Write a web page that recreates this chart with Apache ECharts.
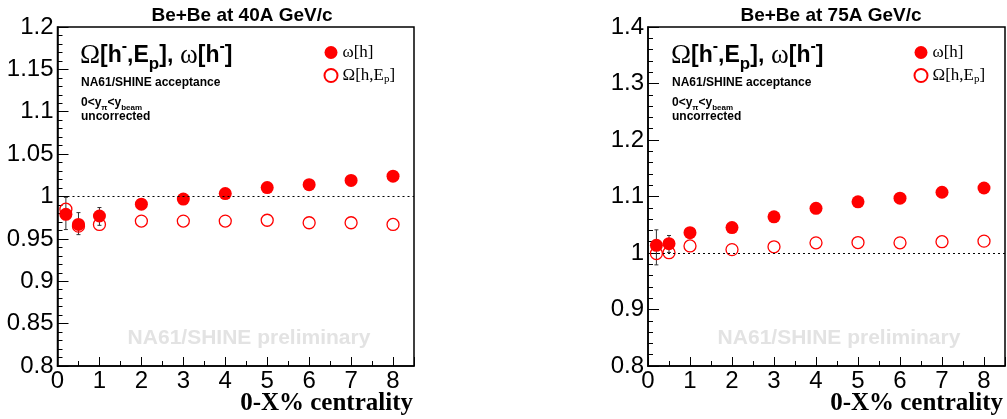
<!DOCTYPE html>
<html>
<head>
<meta charset="utf-8">
<script src="https://cdn.jsdelivr.net/npm/echarts@6/dist/echarts.min.js"></script>
<style>
  html, body { margin: 0; padding: 0; background: #fff; }
  #chart { width: 1007px; height: 419px; }
</style>
</head>
<body>
<div id="chart"></div>
<script>
// centrality bins (0-X%)
const centrality = [0.2, 0.5, 1, 2, 3, 4, 5, 6, 7, 8];

// Be+Be 40A GeV/c
const omega40 = [0.979, 0.967, 0.977, 0.991, 0.997, 1.0035, 1.0105, 1.014, 1.019, 1.024];
const bigOmega40 = [0.985, 0.965, 0.967, 0.971, 0.971, 0.971, 0.972, 0.969, 0.969, 0.967];
const errX40 = [0.2, 0.5, 1];
const errLo40 = [0.961, 0.955, 0.966];
const errHi40 = [0.999, 0.981, 0.987];

// Be+Be 75A GeV/c
const omega75 = [1.0135, 1.0165, 1.036, 1.045, 1.064, 1.079, 1.0905, 1.097, 1.1075, 1.115];
const bigOmega75 = [0.999, 1.0005, 1.0125, 1.006, 1.011, 1.018, 1.0185, 1.018, 1.020, 1.021];
const errX75 = [0.2, 0.5];
const errLo75 = [0.979, 1.001];
const errHi75 = [1.041, 1.031];

const yTicks40 = { min: 0.8, max: 1.2, interval: 0.05 };
const yTicks75 = { min: 0.8, max: 1.4, interval: 0.1 };

const RED = '#ff0000';
const SANS = 'Liberation Sans';
const SERIF = 'Liberation Serif';

const pairs = (xs, ys) => xs.map((x, i) => [x, ys[i]]);
const bars = (xs, lo, hi) => xs.map((x, i) => [x, lo[i], hi[i]]);

function renderErr(params, api) {
  const x = api.value(0);
  const a = api.coord([x, api.value(1)]);
  const b = api.coord([x, api.value(2)]);
  const w = 2;
  const st = { stroke: '#333', lineWidth: 1 };
  return {
    type: 'group',
    children: [
      { type: 'line', shape: { x1: a[0], y1: a[1], x2: b[0], y2: b[1] }, style: st },
      { type: 'line', shape: { x1: a[0] - w, y1: a[1], x2: a[0] + w, y2: a[1] }, style: st },
      { type: 'line', shape: { x1: b[0] - w, y1: b[1], x2: b[0] + w, y2: b[1] }, style: st }
    ]
  };
}

function xAxisFor(idx) {
  return {
    type: 'value', gridIndex: idx, min: 0, max: 8.5, interval: 1,
    axisLine: { lineStyle: { color: '#000', width: 1.5 } },
    axisTick: { inside: true, length: 9, lineStyle: { color: '#000' } },
    minorTick: { show: true, splitNumber: 2, length: 5, lineStyle: { color: '#000' } },
    splitLine: { show: false },
    axisLabel: { showMaxLabel: false, fontFamily: SANS, fontSize: 24, color: '#000', margin: 3 }
  };
}

function yAxisFor(idx, t) {
  return {
    type: 'value', gridIndex: idx, min: t.min, max: t.max, interval: t.interval,
    axisLine: { lineStyle: { color: '#000', width: 1.5 } },
    axisTick: { inside: true, length: 11, lineStyle: { color: '#000' } },
    minorTick: { show: true, splitNumber: 5, length: 5, lineStyle: { color: '#000' } },
    splitLine: { show: false },
    axisLabel: {
      fontFamily: SANS, fontSize: 24, color: '#000', margin: 4,
      formatter: v => String(+v.toFixed(2))
    }
  };
}

function panelSeries(idx, filled, hollow, err, tag) {
  return [
    {
      name: 'err' + tag, type: 'custom', xAxisIndex: idx, yAxisIndex: idx,
      renderItem: renderErr, data: err, encode: { x: 0, y: [1, 2] }, z: 1, silent: true
    },
    {
      name: 'w' + tag, type: 'scatter', xAxisIndex: idx, yAxisIndex: idx,
      data: filled, symbol: 'circle', symbolSize: 13,
      itemStyle: { color: RED, opacity: 1 }, z: 3,
      markLine: {
        silent: true, symbol: 'none', label: { show: false },
        lineStyle: { color: '#000', type: [2, 3], width: 1 },
        data: [{ yAxis: 1 }]
      }
    },
    {
      name: 'O' + tag, type: 'scatter', xAxisIndex: idx, yAxisIndex: idx,
      data: hollow, symbol: 'circle', symbolSize: 12,
      itemStyle: { color: 'rgba(255,255,255,0)', borderColor: RED, borderWidth: 1.3, opacity: 1 }, z: 4
    }
  ];
}

const legendRich = {
  t: { fontFamily: SERIF, fontSize: 17, color: '#000' },
  s: { fontFamily: SERIF, fontSize: 11, color: '#000', verticalAlign: 'bottom', padding: [8, 0, 0, 0] }
};
function legendFor(tag, left) {
  return {
    left: left, top: 44, orient: 'vertical', padding: 0,
    itemWidth: 13, itemHeight: 13, itemGap: 6,
    selectedMode: false,
    data: [{ name: 'w' + tag, icon: 'circle' }, { name: 'O' + tag, icon: 'circle' }],
    formatter: n => n[0] === 'w' ? '{t|ω[h]}' : '{t|Ω[h,E}{s|p}{t|]}',
    textStyle: { rich: legendRich }
  };
}

function panelText(x, cx, right, title) {
  const b = { fontFamily: SANS, fontWeight: 'bold', fontSize: 23, fill: '#000' };
  return [
    { type: 'text', x: cx, y: 16, style: { text: title, align: 'center', verticalAlign: 'middle', font: 'bold 19px ' + SANS, fill: '#000' } },
    {
      type: 'text', x: x, y: 56,
      style: {
        text: '{g|Ω}{b|[h}{p|-}{b|,E}{q|p}{b|],}{g| ω}{b|[h}{p|-}{b|]}',
        verticalAlign: 'middle',
        rich: {
          g: { fontFamily: SERIF, fontSize: 27, lineHeight: 34, fill: '#000' },
          b: Object.assign({ lineHeight: 34 }, b),
          p: { fontFamily: SANS, fontWeight: 'bold', fontSize: 16, lineHeight: 16, verticalAlign: 'top', fill: '#000' },
          q: { fontFamily: SANS, fontWeight: 'bold', fontSize: 17, lineHeight: 17, verticalAlign: 'bottom', fill: '#000' }
        }
      }
    },
    { type: 'text', x: x + 1, y: 83, style: { text: 'NA61/SHINE acceptance', verticalAlign: 'middle', font: 'bold 12px ' + SANS, fill: '#000' } },
    {
      type: 'text', x: x + 1, y: 103,
      style: {
        text: '{a|0<y}{s|π}{a|<y}{s|beam}',
        verticalAlign: 'middle',
        rich: {
          a: { fontFamily: SANS, fontWeight: 'bold', fontSize: 12, lineHeight: 18, fill: '#000' },
          s: { fontFamily: SANS, fontWeight: 'bold', fontSize: 8, lineHeight: 8, verticalAlign: 'bottom', fill: '#000' }
        }
      }
    },
    { type: 'text', x: x + 1, y: 117, style: { text: 'uncorrected', verticalAlign: 'middle', font: 'bold 12px ' + SANS, fill: '#000' } },
    // x axis title, right-aligned under the axis end
    { type: 'text', x: right, y: 404, style: { text: '0-X% centrality', align: 'right', verticalAlign: 'middle', font: 'bold 25px ' + SERIF, fill: '#000' } }
  ];
}

function watermark(cx) {
  return { type: 'text', x: cx, y: 338, z: -1, style: { text: 'NA61/SHINE preliminary', align: 'center', verticalAlign: 'middle', font: 'bold 21px ' + SANS, fill: '#e3e3e3' } };
}

const chart = echarts.init(document.getElementById('chart'), null, { renderer: 'canvas' });
chart.setOption({
  animation: false,
  backgroundColor: '#fff',
  grid: [
    { left: 57.5, top: 27, width: 356.5, height: 339, outerBoundsMode: 'none', show: true, borderColor: '#000', borderWidth: 1.5, backgroundColor: 'transparent' },
    { left: 648, top: 27, width: 357, height: 339, outerBoundsMode: 'none', show: true, borderColor: '#000', borderWidth: 1.5, backgroundColor: 'transparent' }
  ],
  xAxis: [xAxisFor(0), xAxisFor(1)],
  yAxis: [yAxisFor(0, yTicks40), yAxisFor(1, yTicks75)],
  legend: [legendFor('40', 323.5), legendFor('75', 913.5)],
  graphic: [
    watermark(249), watermark(839),
    ...panelText(80, 242, 413, 'Be+Be at 40A GeV/c'),
    ...panelText(671, 831, 1003, 'Be+Be at 75A GeV/c')
  ],
  series: [
    ...panelSeries(0, pairs(centrality, omega40), pairs(centrality, bigOmega40), bars(errX40, errLo40, errHi40), '40'),
    ...panelSeries(1, pairs(centrality, omega75), pairs(centrality, bigOmega75), bars(errX75, errLo75, errHi75), '75')
  ]
});
</script>
</body>
</html>
